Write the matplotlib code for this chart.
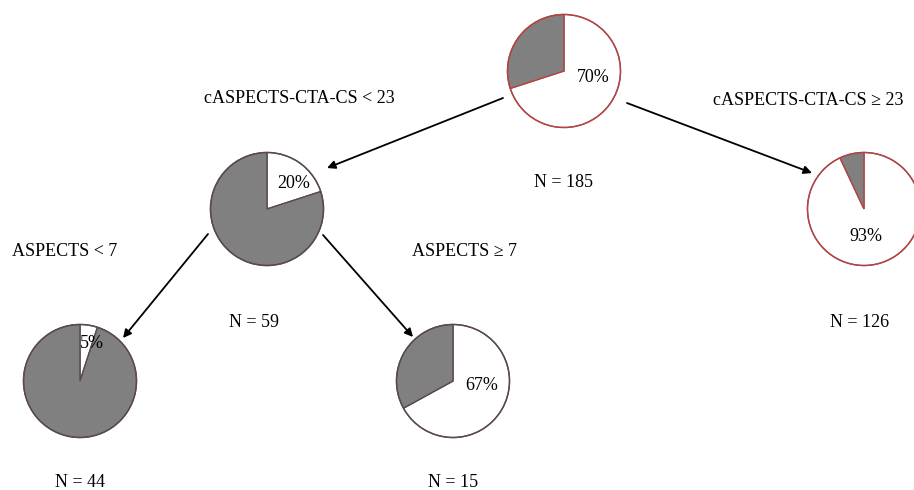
import matplotlib
matplotlib.use('Agg')
import matplotlib.pyplot as plt

plt.rcParams['font.family'] = ['Liberation Serif', 'DejaVu Serif']

# tree nodes: share in the white slice (%), sample size, centre (px), outline colour
pct = [70, 20, 93, 5, 67]
n = [185, 59, 126, 44, 15]
centres = [(564, 71), (267, 209), (864, 209), (80, 381), (453, 381)]
edges = ['#b04545', '#5a4a4a', '#b04545', '#5a4a4a', '#5a4a4a']
pct_pos = [(593, 78), (294, 183), (866, 236), (92, 343), (482, 385)]
n_pos = [(564, 182), (254, 322), (860, 322), (80, 482), (453, 482)]

splits = ['cASPECTS-CTA-CS < 23', 'cASPECTS-CTA-CS \u2265 23', 'ASPECTS < 7', 'ASPECTS \u2265 7']
split_pos = [(299, 98), (808, 100), (65, 251), (465, 251)]
arrows = [((503, 98), (327, 168)), ((627, 103), (812, 173)),
          ((208, 234), (123, 338)), ((323, 235), (413, 337))]

R = 56.5
fig = plt.figure(figsize=(9.14, 4.9), dpi=100)
ax = fig.add_axes([0, 0, 1, 1])
ax.set_xlim(0, 914); ax.set_ylim(490, 0)
ax.set_aspect('equal'); ax.axis('off')

for p, c, ec in zip(pct, centres, edges):
    # y axis is flipped, so counterclock=True draws clockwise on screen
    ax.pie([p, 100 - p], colors=['white', '#808080'], startangle=-90, counterclock=True,
           center=c, radius=R, frame=True,
           wedgeprops=dict(edgecolor=ec, linewidth=1.0))
    ax.add_patch(plt.Circle(c, R, fill=False, edgecolor=ec, lw=1.0, zorder=3))

ax.set_xlim(0, 914); ax.set_ylim(490, 0); ax.axis('off')

for p, (x, y) in zip(pct, pct_pos):
    ax.text(x, y, f'{p}%', ha='center', va='center', fontsize=13, zorder=5)
for v, (x, y) in zip(n, n_pos):
    ax.text(x, y, f'N = {v}', ha='center', va='center', fontsize=13)
for s, (x, y) in zip(splits, split_pos):
    ax.text(x, y, s, ha='center', va='center', fontsize=13)
for a, b in arrows:
    ax.annotate('', xy=b, xytext=a,
                arrowprops=dict(arrowstyle='-|>', color='black', lw=1.3,
                                mutation_scale=12, shrinkA=0, shrinkB=0))

fig.savefig('out.png', dpi=100)
